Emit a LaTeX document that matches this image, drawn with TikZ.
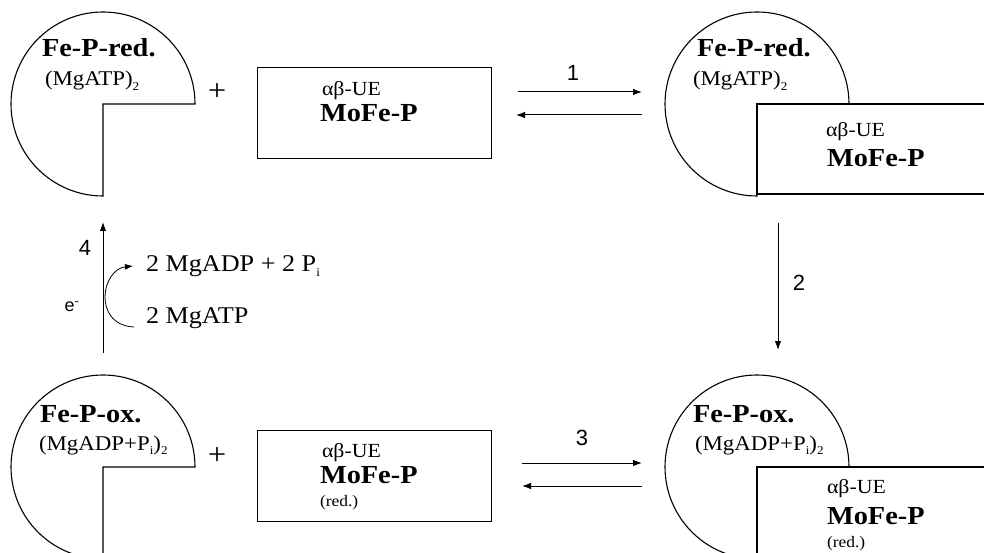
\documentclass[tikz,border=0pt]{standalone}
\usepackage{fontspec}
\setmainfont[FakeStretch=1.09]{Liberation Serif}
\newfontfamily\sansnum{Liberation Sans}
\usetikzlibrary{arrows.meta}
\newcommand{\lowsub}[1]{\raisebox{-0.5ex}{\fontsize{12}{12}\selectfont #1}}
\begin{document}
\begin{tikzpicture}[x=1pt,y=-1pt,
  outline/.style={line width=1.1pt, draw=black},
  txt/.style={anchor=base west, inner sep=0pt, outer sep=0pt},
  titletxt/.style={txt, font=\fontsize{26}{28}\selectfont\bfseries},
  subtxt/.style={txt, font=\fontsize{21}{24}\selectfont},
  uetxt/.style={txt, font=\fontsize{20}{22}\selectfont},
  mofetxt/.style={txt, font=\fontsize{26}{28}\selectfont\bfseries},
  redtxt/.style={txt, font=\fontsize{16}{20}\selectfont},
  eqtxt/.style={txt, font=\fontsize{24}{28}\selectfont},
  plustxt/.style={anchor=center, inner sep=0pt, font=\fontsize{30}{30}\selectfont},
  lbl/.style={anchor=center, inner sep=0pt, font=\sansnum\fontsize{22}{24}\selectfont},
  rxn/.style={line width=1pt, -{Latex[length=9pt,width=6.5pt]}},
]
\useasboundingbox (0,0) rectangle (984,553);
\fill[white] (0,0) rectangle (984,553);
\clip (0,0) rectangle (984,553);

% ---------- Fe protein shapes (3/4 circles) ----------
\draw[outline] (195,104) arc[start angle=0, end angle=-270, radius=92] -- (103,104) -- cycle;
\draw[outline] (849,104) arc[start angle=0, end angle=-270, radius=92] -- (757,104) -- cycle;
\draw[outline] (195,467) arc[start angle=0, end angle=-270, radius=92] -- (103,467) -- cycle;
\draw[outline] (849,467) arc[start angle=0, end angle=-270, radius=92] -- (757,467) -- cycle;

% ---------- MoFe protein boxes ----------
\node[outline, anchor=north west, minimum width=234pt, minimum height=91pt, inner sep=0pt] (boxTL) at (257,67) {};
\node[outline, anchor=north west, minimum width=234pt, minimum height=91pt, inner sep=0pt] (boxBL) at (257,430) {};
\draw[outline, fill=white] (757,104) rectangle (1000,194);
\draw[outline, fill=white] (757,467) rectangle (1000,570);

% ---------- texts ----------
\node[titletxt] (fe1) at (42,57) {Fe-P-red.};
\node[subtxt] (mg1) at (45,86) {(MgATP)\lowsub{2}};
\node[titletxt] (fe2) at (697,57) {Fe-P-red.};
\node[subtxt] (mg2) at (693,86) {(MgATP)\lowsub{2}};
\node[titletxt] (fe3) at (40,422) {Fe-P-ox.};
\node[subtxt] (mg3) at (39,450) {(MgADP+P\lowsub{i})\lowsub{2}};
\node[titletxt] (fe4) at (693,422) {Fe-P-ox.};
\node[subtxt] (mg4) at (695,450) {(MgADP+P\lowsub{i})\lowsub{2}};

\node[uetxt] (ue1) at (322,96) {αβ-UE};
\node[mofetxt] (mo1) at (320,122) {MoFe-P};
\node[uetxt] (ue2) at (826,137) {αβ-UE};
\node[mofetxt] (mo2) at (827,167) {MoFe-P};
\node[uetxt] (ue3) at (322,457) {αβ-UE};
\node[mofetxt] (mo3) at (320,483) {MoFe-P};
\node[redtxt] (rd3) at (320,506) {(red.)};
\node[uetxt] (ue4) at (827,493) {αβ-UE};
\node[mofetxt] (mo4) at (827,524) {MoFe-P};
\node[redtxt] (rd4) at (827,547) {(red.)};

\node[plustxt] (plus1) at (217,92) {+};
\node[plustxt] (plus2) at (217,456) {+};

% ---------- reaction arrows ----------
\coordinate (r1a) at (518,92);  \coordinate (r1b) at (642,92);
\coordinate (r1c) at (642,115); \coordinate (r1d) at (516,115);
\draw[rxn] (r1a) -- (r1b);
\draw[rxn] (r1c) -- (r1d);
\node[lbl] (l1) at (573,73) {1};

\coordinate (r3a) at (522,463); \coordinate (r3b) at (642,463);
\coordinate (r3c) at (642,486); \coordinate (r3d) at (522,486);
\draw[rxn] (r3a) -- (r3b);
\draw[rxn] (r3c) -- (r3d);
\node[lbl] (l3) at (582,438) {3};

\coordinate (r2a) at (778,223); \coordinate (r2b) at (778,350);
\draw[rxn] (r2a) -- (r2b);
\node[lbl] (l2) at (799,283) {2};

\coordinate (r4a) at (103,353); \coordinate (r4b) at (103,222);
\draw[rxn] (r4a) -- (r4b);
\node[lbl] (l4) at (85,248) {4};
\node[anchor=center, inner sep=0pt, font=\sansnum\fontsize{18}{20}\selectfont] (el) at (72,307) {e\textsuperscript{-}};

% ---------- ATP hydrolysis ----------
\node[eqtxt] (adp) at (146,271) {2 MgADP + 2 P\lowsub{i}};
\node[eqtxt] (atp) at (146,323) {2 MgATP};
\coordinate (h1) at (134,327);
\coordinate (h2) at (133,266);
\draw[line width=0.8pt, -{Latex[length=8pt,width=6pt]}] (h1) .. controls (112,326) and (105,310) .. (105,297) .. controls (105,282) and (114,268) .. (h2);
\end{tikzpicture}
\end{document}
